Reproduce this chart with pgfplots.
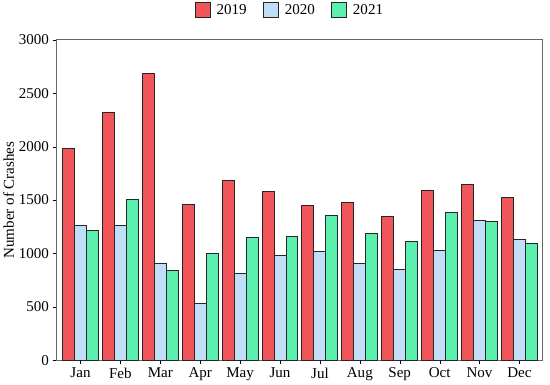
\documentclass[border=0pt]{standalone}
\usepackage{pgfplots}
\pgfplotsset{compat=1.18}
\usepackage{fontspec}
\setmainfont{Liberation Serif}
\definecolor{cred}{RGB}{240,85,90}
\definecolor{cblue}{RGB}{192,222,248}
\definecolor{cgreen}{RGB}{92,240,174}
\begin{document}
\begin{tikzpicture}
\begin{axis}[
  scale only axis,
  width=485pt, height=320pt,
  xmin=-0.6, xmax=11.58,
  ymin=0, ymax=3000,
  ytick={0,500,...,3000},
  xtick={0,...,11},
  xticklabels={Jan,Feb,Mar,Apr,May,Jun,Jul,Aug,Sep,Oct,Nov,Dec},
  xtick pos=bottom, ytick pos=left,
  tick align=outside,
  tick style={black, major tick length=4pt},
  axis line style={gray!80!black, line width=0.8pt},
  ylabel={Number of Crashes},
  ylabel style={yshift=-2pt},
  font=\fontsize{15}{17}\selectfont,
  /pgf/number format/assume math mode=true,
  /pgf/number format/1000 sep={},
  ybar, bar width=0.3,
  legend style={at={(0.48,1.06)}, anchor=south, draw=none, legend columns=3, fill=none,
    /tikz/every odd column/.append style={column sep=4pt},
    /tikz/every even column/.append style={column sep=14pt}},
  legend image code/.code={\draw[#1, line width=1pt] (0pt,-7pt) rectangle (15pt,8pt);},
]
\addplot[fill=cred, draw=black!85, line width=1pt, bar shift=-0.3] coordinates {
(0,1985) (1,2320) (2,2680) (3,1460) (4,1680) (5,1580) (6,1445) (7,1475) (8,1350) (9,1585) (10,1645) (11,1525)};
\addplot[fill=cblue, draw=black!85, line width=1pt, bar shift=0] coordinates {
(0,1258) (1,1260) (2,908) (3,532) (4,815) (5,983) (6,1022) (7,909) (8,846) (9,1028) (10,1309) (11,1127)};
\addplot[fill=cgreen, draw=black!85, line width=1pt, bar shift=0.3] coordinates {
(0,1215) (1,1507) (2,844) (3,1004) (4,1147) (5,1162) (6,1360) (7,1185) (8,1108) (9,1383) (10,1295) (11,1090)};
\legend{2019,2020,2021}
\end{axis}
\path (current bounding box.east) ++(7pt,0) coordinate (r);
\path (r);
\end{tikzpicture}
\end{document}
